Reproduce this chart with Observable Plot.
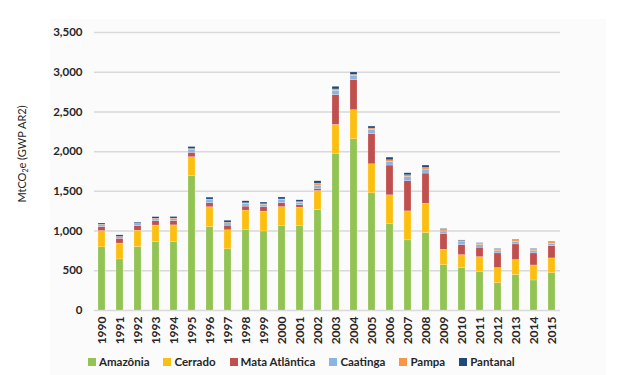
<!DOCTYPE html>
<html><head><meta charset="utf-8">
<script src="https://cdn.jsdelivr.net/npm/d3@7"></script>
<script src="https://cdn.jsdelivr.net/npm/@observablehq/plot@0.6"></script>
<style>
body{margin:0;background:#fff;}
#wrap{position:relative;width:621px;height:375px;font-family:Lato, "Open Sans", sans-serif;overflow:hidden;}
#panel{position:absolute;left:50px;top:19px;width:556px;height:356px;background:#fbfbfb;}
#chart{position:absolute;left:0;top:0;}
#ylab{position:absolute;left:22px;top:154px;transform:translate(-50%,-50%) rotate(-90deg);white-space:nowrap;font-size:11px;color:#262626;}
#ylab sub{font-size:7px;vertical-align:-2px;}
#legend{position:absolute;left:88px;top:355px;display:flex;gap:14px;font-size:11.5px;font-weight:bold;color:#262626;}
#legend .it{display:flex;align-items:center;gap:3px;white-space:nowrap;}
#legend .sw{width:8px;height:8px;display:inline-block;}
</style>
</head><body>
<div id="wrap">
  <div id="panel"></div>
  <div id="chart"></div>
  <div id="ylab">MtCO<sub>2</sub>e (GWP AR2)</div>
  <div id="legend"></div>
</div>
<script>
const years = ["1990","1991","1992","1993","1994","1995","1996","1997","1998","1999","2000","2001","2002","2003","2004","2005","2006","2007","2008","2009","2010","2011","2012","2013","2014","2015"];
const seriesNames = ["Amazônia","Cerrado","Mata Atlântica","Caatinga","Pampa","Pantanal"];
const amazonia = [795,643,800,860,860,1690,1050,770,1010,995,1062,1060,1265,1967,2156,1475,1085,883,975,570,534,488,344,446,378,470];
const cerrado  = [205,200,205,210,212,240,250,240,248,250,240,235,240,370,366,366,365,365,370,195,163,184,190,189,189,186];
const mataAtlantica = [50,60,58,55,55,55,50,58,50,55,50,30,25,374,378,378,375,379,379,200,127,119,185,197,152,155];
const caatinga = [25,18,22,22,22,40,38,30,35,30,38,32,42,55,51,55,46,54,50,30,34,33,29,30,29,30];
const pampa    = [5,5,5,8,8,8,8,7,7,7,8,8,26,17,16,17,20,21,21,20,16,17,17,21,17,17];
const pantanal = [15,20,15,20,20,25,25,25,25,22,25,22,29,33,30,25,34,26,30,10,8,6,8,8,8,8];
const yTicks = [0,500,1000,1500,2000,2500,3000,3500];
const colors = ["#92c353","#fdbf0f","#c0504d","#8db3e2","#f79646","#1f497d"];

const seriesValues = [amazonia, cerrado, mataAtlantica, caatinga, pampa, pantanal];
const rows = [];
seriesNames.forEach((s, si) => years.forEach((yr, i) => rows.push({year: yr, series: s, value: seriesValues[si][i]})));

const chart = Plot.plot({
  width: 621,
  height: 375,
  marginLeft: 94,
  marginRight: 61,
  marginTop: 32,
  marginBottom: 65,
  style: {background: "transparent", fontFamily: "Lato, 'Open Sans', sans-serif", fontSize: "11px", fontWeight: "bold", color: "#262626"},
  x: {domain: years, paddingInner: 0.6, paddingOuter: 0.2, label: null},
  y: {domain: [0, 3500], label: null},
  color: {domain: seriesNames, range: colors},
  marks: [
    Plot.gridY(yTicks, {stroke: "#d9d9d9", strokeOpacity: 1, strokeWidth: 1.5}),
    Plot.barY(rows, {x: "year", y: "value", fill: "series", order: seriesNames, stroke: "#ffffff", strokeWidth: 0.4, strokeOpacity: 0.5}),
    Plot.axisX({tickSize: 0, tickRotate: -90, tickPadding: 6, fontWeight: "bold", fontSize: 12, label: null}),
    Plot.axisY({ticks: yTicks, tickFormat: d3.format(","), tickSize: 0, tickPadding: 12, fontWeight: "bold", fontSize: 11.5, label: null})
  ]
});
document.getElementById("chart").appendChild(chart);

const legend = document.getElementById("legend");
seriesNames.forEach((s, i) => {
  const it = document.createElement("div");
  it.className = "it";
  const sw = document.createElement("span");
  sw.className = "sw";
  sw.style.background = colors[i];
  const tx = document.createElement("span");
  tx.textContent = s;
  it.appendChild(sw); it.appendChild(tx);
  legend.appendChild(it);
});
</script>
</body></html>
